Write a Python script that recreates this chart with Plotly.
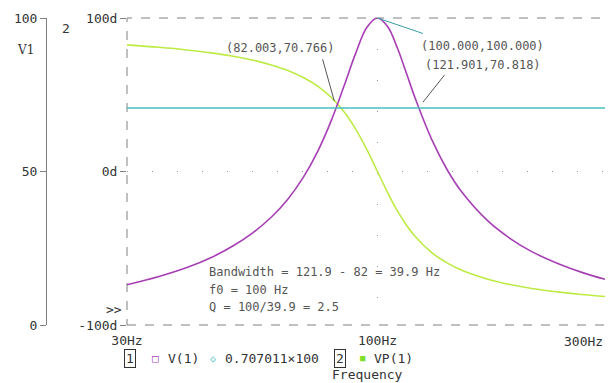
import math
import plotly.graph_objects as go

# ---- data ----
freq_hz = [30, 35, 40, 45, 50, 55, 60, 65, 70, 75, 80, 85, 90, 95, 100,
           105, 110, 115, 120, 130, 140, 150, 170, 190, 210, 240, 270, 300]
v1_mag = [13.1, 15.8, 18.7, 22.0, 25.8, 30.1, 35.1, 41.0, 48.1, 56.5, 66.4, 77.5, 88.4, 96.9, 100.0,
          97.2, 90.3, 81.9, 73.7, 60.2, 50.4, 43.3, 33.9, 28.0, 23.9, 19.8, 16.9, 14.8]
vp1_deg = [82.5, 80.9, 79.2, 77.3, 75.1, 72.5, 69.4, 65.8, 61.2, 55.6, 48.4, 39.2, 27.8, 14.4, 0.0,
           -13.7, -25.5, -35.0, -42.5, -53.0, -59.7, -64.4, -70.2, -73.8, -76.2, -78.6, -80.3, -81.5]
ref_level = 70.7011           # 0.707011*100
x_ticks = [30, 100, 300]
x_ticktext = ["30Hz", "100Hz", "300Hz"]
mag_ticks = [0, 50, 100]
mag_ticktext = ["0", "50", "100"]
ph_ticks = [-100, 0, 100]
ph_ticktext = ["-100d", "0d", "100d"]
cursors = [(82.003, 70.766), (100.000, 100.000), (121.901, 70.818)]
notes = ["Bandwidth = 121.9 - 82 = 39.9 Hz", "f0 = 100 Hz", "Q = 100/39.9 = 2.5"]

PURPLE = "#A63FB4"
GREEN = "#BDEB45"
CYAN = "#45BFC0"
GRAY = "#808080"
TXT = "#333333"
MONO = "DejaVu Sans Mono"

OFF = 8                     # page body margin
W, H = 613 - OFF, 383 - OFF
ML, MR, MT, MB = 0, W - (606 - OFF), 18 - OFF, H - (325 - OFF)
PW = W - ML - MR
PH = H - MT - MB
X0 = 127  # left edge of plot area in window pixels


def px(x):
    return (x - OFF - ML) / PW


def py(y):
    return (H - MB - (y - OFF)) / PH


fig = go.Figure()
fig.add_trace(go.Scatter(x=freq_hz, y=v1_mag, yaxis="y2", mode="lines",
                         line=dict(color=PURPLE, width=1.6, shape="spline"), name="V(1)"))
fig.add_trace(go.Scatter(x=[freq_hz[0], freq_hz[-1]], y=[ref_level, ref_level], yaxis="y2",
                         mode="lines", line=dict(color=CYAN, width=1.6), name="0.707011×100"))
fig.add_trace(go.Scatter(x=freq_hz, y=vp1_deg, yaxis="y", mode="lines",
                         line=dict(color=GREEN, width=1.6, shape="spline"), name="VP(1)"))

tickfont = dict(family=MONO, size=13, color=TXT)
fig.update_layout(
    width=W, height=H, margin=dict(l=ML, r=MR, t=MT, b=MB, autoexpand=False),
    paper_bgcolor="white", plot_bgcolor="white", showlegend=False,
    xaxis=dict(type="log", range=[math.log10(30), math.log10(300)], domain=[px(X0), 1],
               tickvals=x_ticks[:-1], ticktext=x_ticktext[:-1], tickfont=tickfont,
               ticks="outside", ticklen=3, tickcolor="white", showline=False, zeroline=False,
               showgrid=True, gridcolor="#999999", gridwidth=1, griddash="1px,30px",
               automargin=False),
    yaxis=dict(range=[-100, 100], tickvals=ph_ticks, ticktext=ph_ticktext, tickfont=tickfont,
               ticks="outside", ticklen=6, tickcolor=GRAY, showline=False, zeroline=False,
               showgrid=True, gridcolor="#999999", gridwidth=1, griddash="1px,24px",
               anchor="x", automargin=False),
    yaxis2=dict(range=[0, 100], tickvals=mag_ticks, ticktext=mag_ticktext, tickfont=tickfont,
                ticks="outside", ticklen=6, tickcolor=GRAY, showline=True, linecolor=GRAY,
                linewidth=1, zeroline=False, showgrid=False, automargin=False,
                overlaying="y", anchor="free", position=px(46), side="left"),
)

fig.add_shape(type="rect", xref="x domain", yref="y domain", x0=0, x1=1, y0=0, y1=1,
              line=dict(color=GRAY, width=1, dash="dash"), layer="below")


def label(x, y, text, font, xanchor="center", **kw):
    fig.add_annotation(x=px(x), y=py(y), xref="paper", yref="paper", text=text,
                       showarrow=False, xanchor=xanchor, yanchor="middle", font=font, **kw)


# last x tick label, pulled inside the window like the reference
label(605, 341, x_ticktext[-1], tickfont, xanchor="right")

# cursor labels and leader lines
lab_font = dict(family=MONO, size=12, color="#555555")
label(280, 48, "(%.3f,%.3f)" % cursors[0], lab_font)
label(482, 46, "(%.3f,%.3f)" % cursors[1], lab_font)
label(483, 65, "(%.3f,%.3f)" % cursors[2], lab_font)
leaders = [(cursors[0], -14, -50, "#555555", 7),
           (cursors[1], 47, 16, "#3A9EA8", 0),
           (cursors[2], 27, -34, "#555555", 7)]
for (cx, cy), ax, ay, col, so in leaders:
    fig.add_annotation(x=math.log10(cx), y=cy, xref="x", yref="y2", text="",
                       showarrow=True, arrowhead=0, arrowwidth=1, arrowcolor=col,
                       ax=ax, ay=ay, standoff=so)

# notes
for i, t in enumerate(notes):
    label(207, 272 + 17.5 * i, t, dict(family=MONO, size=12, color="#555555"), xanchor="left")

# axis captions
label(25, 50, "V1", dict(family="DejaVu Serif", size=12, color=TXT))
label(66, 28, "2", tickfont)
label(114, 309, ">>", tickfont)

# legend row
LY = 358
label(130, LY, "1", tickfont, bordercolor=TXT, borderwidth=1, borderpad=1)
label(155, LY, "□", dict(family=MONO, size=11, color=PURPLE))
label(166, LY, "V(1)", tickfont, xanchor="left")
label(213, LY, "◇", dict(family=MONO, size=10, color=CYAN))
label(223, LY, "0.707011×100", tickfont, xanchor="left")
label(340, LY, "2", tickfont, bordercolor=TXT, borderwidth=1, borderpad=1)
label(363, LY, "■", dict(family=MONO, size=9, color="#7FE030"))
label(372, LY, "VP(1)", tickfont, xanchor="left")
label(367, 374, "Frequency", tickfont)

fig.write_html("out.html")
